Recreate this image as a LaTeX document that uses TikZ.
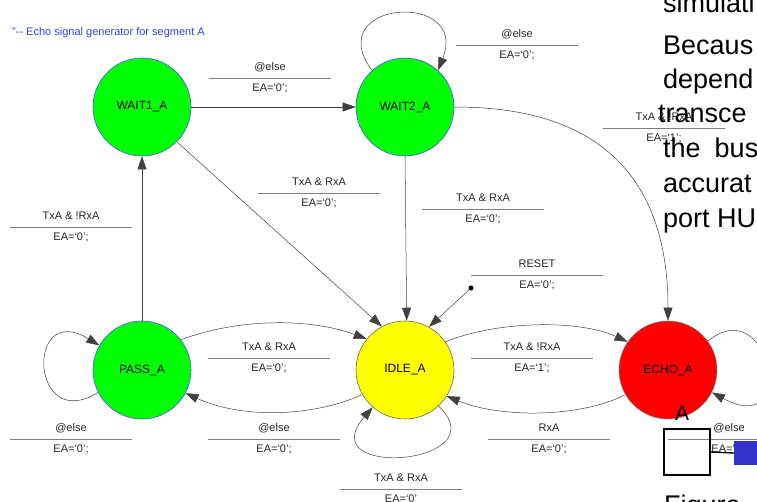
\documentclass[tikz,border=0pt]{standalone}
\usepackage{fontspec}
\setmainfont{Liberation Sans}
\usetikzlibrary{arrows.meta}
\definecolor{cmtblue}{RGB}{60,60,220}
\definecolor{boxblue}{RGB}{51,51,204}
\definecolor{stgreen}{RGB}{0,255,0}
\definecolor{stred}{RGB}{255,0,0}
\definecolor{styellow}{RGB}{255,255,0}
\newcommand\trlabel[6]{%
  \draw[rulel] (#2-#6,#3) -- (#2+#6,#3);
  \node[lab] (#1t) at (#2,#3-11) {#4};
  \node[lab] (#1b) at (#2,#3+10) {#5};}
\begin{document}
\begin{tikzpicture}[x=1pt,y=-1pt,
  state/.style={circle, minimum size=98pt, inner sep=0pt, line width=0.6pt,
    font=\fontsize{12}{14}\selectfont},
  edge/.style={draw=black!75, line width=0.5pt, -{Triangle[length=13pt,width=9pt]}},
  lab/.style={font=\fontsize{11}{13}\selectfont, text=black!85, inner sep=0pt},
  rulel/.style={draw=black!50, line width=0.9pt},
  doc/.style={font=\fontsize{27}{32}\selectfont, anchor=base west, inner sep=0pt},
  dot/.style={circle, fill=black, inner sep=0pt, minimum size=5pt}]
\useasboundingbox (0,0) rectangle (757,501);
\clip (0,0) rectangle (757,501);

\node[font=\fontsize{11}{13}\selectfont, text=cmtblue, anchor=west, inner sep=0pt] (cmt) at (12,33) {"{-}{-} Echo signal generator for segment A};

% states
\node[state, fill=stgreen, draw=blue!70] (w1) at (142,107) {WAIT1\_A};
\node[state, fill=stgreen, draw=blue!70] (w2) at (405,107) {WAIT2\_A};
\node[state, fill=stgreen, draw=blue!70] (p) at (142,370) {PASS\_A};
\node[state, fill=styellow, draw=black!60] (i) at (405,370) {IDLE\_A};
\node[state, fill=stred, draw=black!50] (e) at (668,370) {ECHO\_A};
\node[dot] (rst) at (471,288) {};

% transitions
\draw[edge] (w1) -- (w2);
\draw[edge] (w2.132) .. controls (320,0) and (470,-10) .. (w2.48);
\draw[edge] (w2.east) .. controls (540,107) and (668,130) .. (e.north);
\draw[edge] (w1.-45) -- (i.118);
\draw[edge] (w2.south) -- (i.88);
\draw[edge] (rst) -- (i.61);
\draw[edge] (p) -- (w1);
\draw[edge] (p.207) .. controls (30,435) and (25,300) .. (p.150);
\draw[edge] (p.38) .. controls (240,318) and (310,318) .. (i.141);
\draw[edge] (i.210) .. controls (310,418) and (240,418) .. (p.-28);
\draw[edge] (i.-47) .. controls (500,465) and (310,480) .. (i.-131);
\draw[edge] (i.35) .. controls (500,320) and (580,320) .. (e.145);
\draw[edge] (e.210) .. controls (580,418) and (500,418) .. (i.-32);
\draw[edge] (e.36) .. controls (770,290) and (800,440) .. (e.-27);

% labels
\trlabel{la}{270}{78}{@else}{EA=`0';}{61}
\trlabel{lb}{517}{45}{@else}{EA=`0';}{61}
\trlabel{lc}{664}{128}{TxA \& !RxA}{EA=`1';}{61}
\trlabel{ld}{319}{193}{TxA \& RxA}{EA=`0';}{61}
\trlabel{le}{483}{209}{TxA \& RxA}{EA=`0';}{61}
\trlabel{lf}{537}{275}{RESET}{EA=`0';}{66}
\trlabel{lg}{71}{227}{TxA \& !RxA}{EA=`0';}{61}
\trlabel{lh}{71}{439}{@else}{EA=`0';}{61}
\trlabel{li}{269}{358}{TxA \& RxA}{EA=`0';}{61}
\trlabel{lj}{274}{439}{@else}{EA=`0';}{66}
\trlabel{lk}{401}{489}{TxA \& RxA}{EA=`0'}{61}
\trlabel{ll}{532}{358}{TxA \& !RxA}{EA=`1';}{61}
\trlabel{lm}{549}{439}{RxA}{EA=`0';}{61}
\trlabel{ln}{729}{439}{@else}{EA=`0';}{61}

% overlapping document fragments
\node[doc] (t1) at (663,12) {simulati};
\node[doc] (t2) at (663,54) {Becaus};
\node[doc] (t3) at (663,88) {depend};
\node[doc] (t4) at (658,122) {transce};
\node[doc] (t5) at (663,157) {the\hspace{14pt}bus};
\node[doc] (t6) at (663,192) {accurat};
\node[doc] (t7) at (663,227) {port HU};
\node[doc] (t8) at (664,514) {Figure};
\node[font=\fontsize{21}{24}\selectfont, anchor=base, inner sep=0pt] (bigA) at (682,420) {A};
\node[draw, line width=1.4pt, minimum width=46pt, minimum height=46pt, inner sep=0pt] (bx) at (687,452) {};
\node[fill=boxblue, minimum width=30pt, minimum height=24pt, inner sep=0pt] (blu) at (749,453) {};
\draw[line width=1.4pt] (bx.east) -- (blu.west);
\end{tikzpicture}
\end{document}
